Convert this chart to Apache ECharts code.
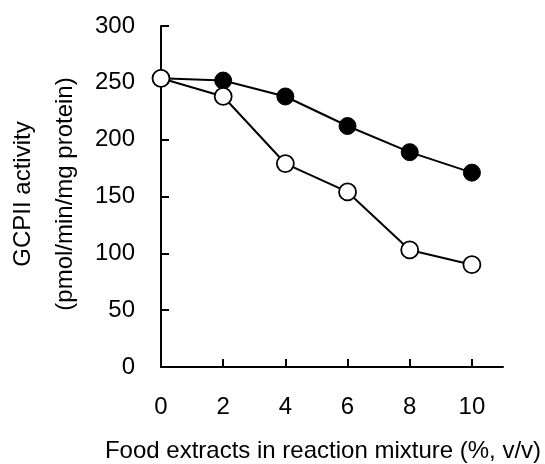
<!DOCTYPE html>
<html>
<head>
<meta charset="utf-8">
<script src="https://cdn.jsdelivr.net/npm/echarts@6/dist/echarts.min.js"></script>
<style>
html,body{margin:0;padding:0;background:#fff;}
#chart{width:545px;height:464px;}
</style>
</head>
<body>
<div id="chart"></div>
<script>
var xValues = [0, 2, 4, 6, 8, 10];
var filledValues = [254, 252, 238, 212, 189, 171];
var openValues = [254, 238, 179, 154, 103, 90];
var xTicks = [0, 2, 4, 6, 8, 10];
var yTicks = [0, 50, 100, 150, 200, 250, 300];
var xTitle = 'Food extracts in reaction mixture (%, v/v)';
var yTitle = 'GCPII activity\n(pmol/min/mg protein)';

var FONT = 'Liberation Sans, Arial, sans-serif';
function pairs(xs, ys) { return xs.map(function (x, i) { return [x, ys[i]]; }); }

var chart = echarts.init(document.getElementById('chart'), null, {renderer: 'canvas'});
chart.setOption({
  animation: false,
  backgroundColor: '#fff',
  grid: {left: 161, right: 42, top: 26, bottom: 97},
  xAxis: {
    type: 'value', min: 0, max: 11, interval: 2,
    axisLine: {show: true, lineStyle: {color: '#000', width: 2}},
    axisTick: {show: true, inside: true, length: 8, lineStyle: {color: '#000', width: 2}, customValues: xTicks},
    axisLabel: {show: true, margin: 28, color: '#000', fontSize: 24, fontFamily: FONT, customValues: xTicks},
    splitLine: {show: false}
  },
  yAxis: {
    type: 'value', min: 0, max: 300, interval: 50,
    axisLine: {show: true, lineStyle: {color: '#000', width: 2}},
    axisTick: {show: true, inside: true, length: 8, lineStyle: {color: '#000', width: 2}, customValues: yTicks},
    axisLabel: {show: true, margin: 26, color: '#000', fontSize: 24, fontFamily: FONT, customValues: yTicks},
    splitLine: {show: false}
  },
  graphic: [
    {type: 'text', x: 44, y: 194, rotation: Math.PI / 2,
     style: {text: yTitle, fontSize: 24, fontFamily: FONT, fill: '#000', align: 'center', verticalAlign: 'middle', lineHeight: 42}},
    {type: 'text', x: 323, y: 451,
     style: {text: xTitle, fontSize: 24, fontFamily: FONT, fill: '#000', align: 'center', verticalAlign: 'middle'}}
  ],
  series: [
    {type: 'line', data: pairs(xValues, filledValues), symbol: 'circle', symbolSize: 17,
     lineStyle: {color: '#000', width: 2}, itemStyle: {color: '#000', borderColor: '#000', borderWidth: 1}, z: 2},
    {type: 'line', data: pairs(xValues, openValues), symbol: 'circle', symbolSize: 17,
     lineStyle: {color: '#000', width: 2}, itemStyle: {color: '#fff', borderColor: '#000', borderWidth: 1.8}, z: 3}
  ]
});
</script>
</body>
</html>
